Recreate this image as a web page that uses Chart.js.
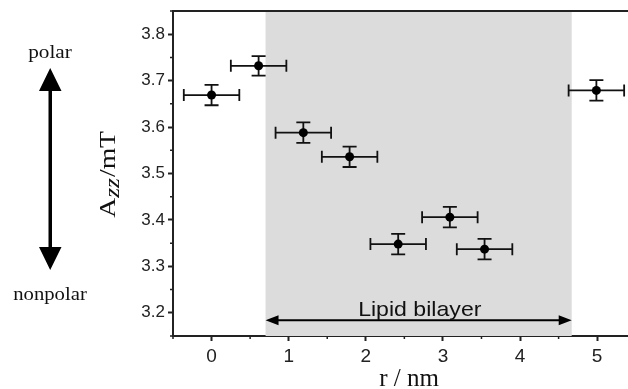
<!DOCTYPE html>
<html>
<head>
<meta charset="utf-8">
<script src="https://cdn.jsdelivr.net/npm/chart.js@4"></script>
<style>
  html, body { margin: 0; padding: 0; background: #fff; }
  #wrap { width: 628px; height: 389px; }
</style>
</head>
<body>
<div id="wrap"><canvas id="azzChart" width="628" height="389"></canvas></div>
<script>
// dados
const rValues   = [0, 0.61, 1.19, 1.79, 2.42, 3.09, 3.54, 4.99];
const azzValues = [3.669, 3.732, 3.588, 3.536, 3.348, 3.406, 3.337, 3.679];
const rErr      = [0.36, 0.36, 0.36, 0.36, 0.36, 0.36, 0.36, 0.36];
const azzErr    = [0.022, 0.021, 0.022, 0.022, 0.022, 0.022, 0.022, 0.022];

const xTicks = [0, 1, 2, 3, 4, 5];
const yTicks = [3.2, 3.3, 3.4, 3.5, 3.6, 3.7, 3.8];
const xMinor = [-0.5, 0.5, 1.5, 2.5, 3.5, 4.5];
const yMinor = [3.15, 3.25, 3.35, 3.45, 3.55, 3.65, 3.75, 3.85];

// região da bicamada lipídica
const bilayerStart = 0.7;
const bilayerEnd = 4.67;
const bilayerArrowY = 3.184;
const bilayerLabel = 'Lipid bilayer';

const axisColor = '#222';
const serif = '"Liberation Serif", "Times New Roman", serif';

// texto esticado na horizontal (a figura original tem fontes mais largas)
function wideText(ctx, text, x, y, sx) {
    ctx.save();
    ctx.translate(x, y);
    ctx.scale(sx, 1);
    ctx.fillText(text, 0, 0);
    ctx.restore();
}

/* faixa cinza, barras de erro, seta e textos extras */
const extras = {
    id: 'extras',
    beforeDatasetsDraw(chart) {
        const { ctx, chartArea: a, scales: { x, y } } = chart;
        ctx.save();
        // faixa cinza
        const x0 = x.getPixelForValue(bilayerStart);
        const x1 = x.getPixelForValue(bilayerEnd);
        ctx.fillStyle = '#dcdcdc';
        ctx.fillRect(x0, a.top, x1 - x0, a.bottom - a.top);

        // barras de erro
        ctx.strokeStyle = '#111';
        ctx.lineWidth = 1.8;
        rValues.forEach((r, i) => {
            const px = x.getPixelForValue(r);
            const py = y.getPixelForValue(azzValues[i]);
            const xl = x.getPixelForValue(r - rErr[i]);
            const xr = x.getPixelForValue(r + rErr[i]);
            const yt = y.getPixelForValue(azzValues[i] + azzErr[i]);
            const yb = y.getPixelForValue(azzValues[i] - azzErr[i]);
            ctx.beginPath();
            ctx.moveTo(xl, py); ctx.lineTo(xr, py);
            ctx.moveTo(xl, py - 6); ctx.lineTo(xl, py + 6);
            ctx.moveTo(xr, py - 6); ctx.lineTo(xr, py + 6);
            ctx.moveTo(px, yt); ctx.lineTo(px, yb);
            ctx.moveTo(px - 7, yt); ctx.lineTo(px + 7, yt);
            ctx.moveTo(px - 7, yb); ctx.lineTo(px + 7, yb);
            ctx.stroke();
        });

        // seta dupla "Lipid bilayer"
        const ay = y.getPixelForValue(bilayerArrowY);
        ctx.strokeStyle = '#000';
        ctx.fillStyle = '#000';
        ctx.lineWidth = 2;
        ctx.beginPath();
        ctx.moveTo(x0 + 8, ay); ctx.lineTo(x1 - 8, ay);
        ctx.stroke();
        ctx.beginPath();
        ctx.moveTo(x0, ay); ctx.lineTo(x0 + 13, ay - 5); ctx.lineTo(x0 + 13, ay + 5); ctx.closePath();
        ctx.moveTo(x1, ay); ctx.lineTo(x1 - 13, ay - 5); ctx.lineTo(x1 - 13, ay + 5); ctx.closePath();
        ctx.fill();
        ctx.font = '21px "Liberation Sans", Arial, sans-serif';
        ctx.textAlign = 'center';
        ctx.textBaseline = 'alphabetic';
        ctx.fillStyle = '#111';
        wideText(ctx, bilayerLabel, x.getPixelForValue(2.7), ay - 4, 1.1);
        ctx.restore();
    },
    afterDraw(chart) {
        const { ctx, chartArea: a, scales: { x, y } } = chart;
        ctx.save();
        // linha superior da moldura
        ctx.strokeStyle = axisColor;
        ctx.lineWidth = 2;
        ctx.beginPath();
        ctx.moveTo(a.left, a.top); ctx.lineTo(a.right, a.top);
        ctx.stroke();

        // ticks menores
        ctx.lineWidth = 1.5;
        ctx.beginPath();
        xMinor.forEach(v => {
            const px = x.getPixelForValue(v);
            ctx.moveTo(px, a.bottom); ctx.lineTo(px, a.bottom + 3);
        });
        yMinor.forEach(v => {
            const py = y.getPixelForValue(v);
            ctx.moveTo(a.left, py); ctx.lineTo(a.left - 3, py);
        });
        ctx.stroke();

        // título do eixo y: A_zz/mT
        ctx.fillStyle = '#111';
        ctx.translate(115, 175);
        ctx.rotate(-Math.PI / 2);
        ctx.scale(1.2, 1);
        ctx.textBaseline = 'alphabetic';
        ctx.textAlign = 'left';
        const big = '23px ' + serif;
        const sub = 'italic 21px ' + serif;
        ctx.font = big;
        const wA = ctx.measureText('A').width;
        const wRest = ctx.measureText('/mT').width;
        ctx.font = sub;
        const wZ = ctx.measureText('zz').width;
        let cx = -(wA + wZ + wRest) / 2;
        ctx.font = big;
        ctx.fillText('A', cx, 0);
        cx += wA;
        ctx.font = sub;
        ctx.fillText('zz', cx, 4);
        cx += wZ + 1;
        ctx.font = big;
        ctx.fillText('/mT', cx, 0);
        ctx.restore();

        // título do eixo x
        ctx.save();
        ctx.fillStyle = '#111';
        ctx.font = '25px ' + serif;
        ctx.textAlign = 'center';
        ctx.textBaseline = 'alphabetic';
        ctx.fillText('r / nm', 409, 386);

        // seta polar / nonpolar
        ctx.font = '18px ' + serif;
        wideText(ctx, 'polar', 50, 58, 1.18);
        wideText(ctx, 'nonpolar', 50, 300, 1.15);
        ctx.fillStyle = '#000';
        ctx.fillRect(48.5, 85, 3.5, 165);
        ctx.beginPath();
        ctx.moveTo(50.2, 68); ctx.lineTo(39, 91); ctx.lineTo(61.5, 91); ctx.closePath();
        ctx.moveTo(50.2, 270); ctx.lineTo(39, 247); ctx.lineTo(61.5, 247); ctx.closePath();
        ctx.fill();
        ctx.restore();
    }
};

new Chart(document.getElementById('azzChart'), {
    type: 'scatter',
    data: {
        datasets: [{
            data: rValues.map((r, i) => ({ x: r, y: azzValues[i] })),
            backgroundColor: '#000',
            borderWidth: 0,
            pointRadius: 4.5
        }]
    },
    options: {
        responsive: false,
        animation: false,
        layout: { autoPadding: false, padding: { top: 11, left: 0, right: 0, bottom: 0 } },
        plugins: { legend: { display: false }, tooltip: { enabled: false } },
        scales: {
            x: {
                type: 'linear',
                min: -0.5,
                max: 5.4,
                afterBuildTicks: s => { s.ticks = xTicks.map(v => ({ value: v })); },
                afterFit: s => { s.height = 53; s.paddingLeft = 0; s.paddingRight = 0; },
                grid: { drawOnChartArea: false, tickLength: 5, tickColor: axisColor, tickWidth: 2 },
                border: { color: axisColor, width: 2 },
                ticks: {
                    color: '#222',
                    padding: 4,
                    font: { family: '"Liberation Sans", Arial, sans-serif', size: 19 },
                    callback: v => String(v)
                }
            },
            y: {
                type: 'linear',
                min: 3.15,
                max: 3.85,
                afterBuildTicks: s => { s.ticks = yTicks.map(v => ({ value: v })); },
                afterFit: s => { s.width = 173; s.paddingTop = 0; s.paddingBottom = 0; },
                grid: { drawOnChartArea: false, tickLength: 5, tickColor: axisColor, tickWidth: 2 },
                border: { color: axisColor, width: 2 },
                ticks: {
                    color: '#222',
                    padding: 3,
                    font: { family: '"Liberation Sans", Arial, sans-serif', size: 17 },
                    callback: v => v.toFixed(1)
                }
            }
        }
    },
    plugins: [extras]
});
</script>
</body>
</html>
